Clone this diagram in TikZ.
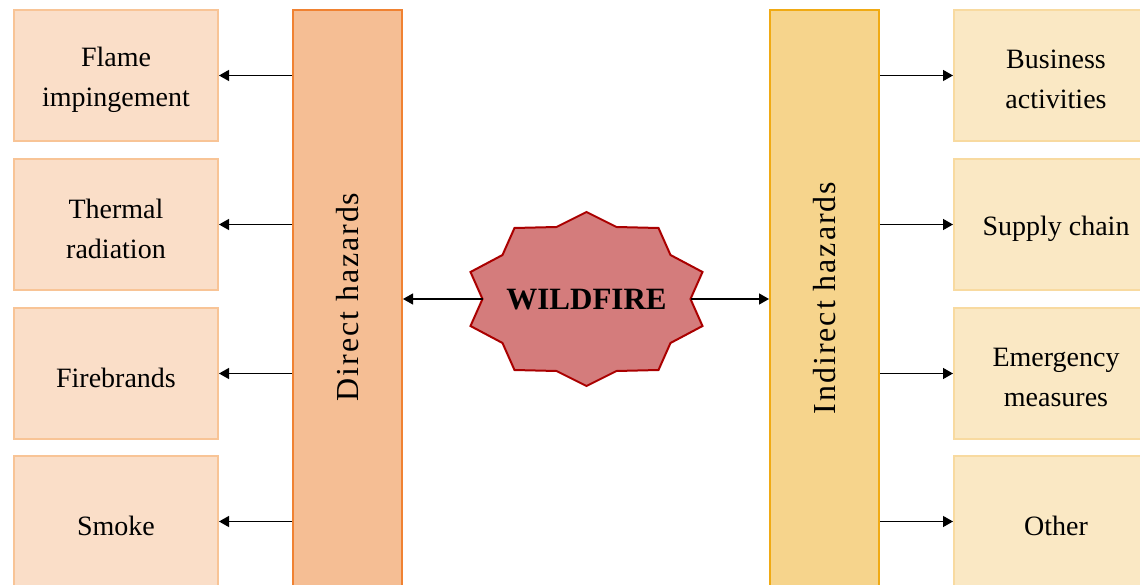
\documentclass[tikz,border=0pt]{standalone}
\usepackage{fontspec}
\setmainfont{Liberation Serif}
\usetikzlibrary{arrows.meta}
\definecolor{lfill}{RGB}{250,222,200}
\definecolor{lline}{RGB}{248,196,150}
\definecolor{dfill}{RGB}{245,190,148}
\definecolor{dline}{RGB}{240,130,50}
\definecolor{rfill}{RGB}{250,232,196}
\definecolor{rline}{RGB}{248,218,160}
\definecolor{ifill}{RGB}{246,212,140}
\definecolor{iline}{RGB}{240,170,20}
\definecolor{sfill}{RGB}{212,124,124}
\definecolor{sline}{RGB}{170,0,0}
\begin{document}
\begin{tikzpicture}[x=1pt,y=-1pt,
  boxtext/.style={align=center, font=\fontsize{28}{40}\selectfont, inner sep=0pt},
  lbox/.style={draw=lline, fill=lfill, line width=2pt, minimum width=204pt, minimum height=131pt, inner sep=0pt},
  rbox/.style={draw=rline, fill=rfill, line width=2pt, minimum width=204pt, minimum height=131pt, inner sep=0pt},
  dbar/.style={draw=dline, fill=dfill, line width=2pt, minimum width=109pt, minimum height=580pt, inner sep=0pt},
  ibar/.style={draw=iline, fill=ifill, line width=2pt, minimum width=109pt, minimum height=580pt, inner sep=0pt},
  bartext/.style={rotate=90, font=\fontsize{32}{36}\selectfont\addfontfeatures{LetterSpace=6}},
  arr/.style={line width=1.3pt, -{Triangle[length=10pt,width=11pt]}},
  starsty/.style={draw=sline, fill=sfill, line width=2pt, line join=miter}
]
\useasboundingbox (0,0) rectangle (1140,585);
\clip (0,0) rectangle (1140,585);

% bars
\node[dbar] (direct) at (347.5,300) {};
\node[bartext] (dtext) at (347.5,297) {Direct hazards};
\node[ibar] (indirect) at (824.5,300) {};
\node[bartext] (itext) at (824.5,298) {Indirect hazards};

% left boxes
\node[lbox] (l1) at (116,75.5) {};
\node[lbox] (l2) at (116,224.5) {};
\node[lbox] (l3) at (116,373.5) {};
\node[lbox] (l4) at (116,521.5) {};
\node[boxtext] (t1) at ([yshift=-4pt]l1.center) {Flame\\impingement};
\node[boxtext] (t2) at ([yshift=-4pt]l2.center) {Thermal\\radiation};
\node[boxtext] (t3) at ([yshift=-4pt]l3.center) {Firebrands};
\node[boxtext] (t4) at ([yshift=-4pt]l4.center) {Smoke};

% right boxes
\node[rbox] (r1) at (1056,75.5) {};
\node[rbox] (r2) at (1056,224.5) {};
\node[rbox] (r3) at (1056,373.5) {};
\node[rbox] (r4) at (1056,521.5) {};
\node[boxtext] (u1) at ([yshift=-4pt]r1.center) {Business\\activities};
\node[boxtext] (u2) at ([yshift=-4pt]r2.center) {Supply chain};
\node[boxtext] (u3) at ([yshift=-4pt]r3.center) {Emergency\\measures};
\node[boxtext] (u4) at ([yshift=-4pt]r4.center) {Other};

% star
\begin{scope}[shift={(586.5,299)}]
\draw[starsty] (0,-87) -- (30,-72) -- (72,-71) -- (84,-44) -- (116,-27) -- (104,0)
  -- (116,27) -- (84,44) -- (72,71) -- (30,72) -- (0,87) -- (-30,72) -- (-72,71)
  -- (-84,44) -- (-116,27) -- (-104,0) -- (-116,-27) -- (-84,-44) -- (-72,-71)
  -- (-30,-72) -- cycle;
\coordinate (fw) at (-104,0);
\coordinate (fe) at (104,0);
\end{scope}
\node[font=\fontsize{31}{36}\selectfont\bfseries] (fire) at (586.5,300) {WILDFIRE};

% connectors
\draw[arr] (fw) -- (direct.east |- fw);
\draw[arr] (fe) -- (indirect.west |- fe);
\foreach \b in {l1,l2,l3,l4} \draw[arr] (direct.west |- \b) -- (\b.east);
\foreach \b in {r1,r2,r3,r4} \draw[arr] (indirect.east |- \b) -- (\b.west);
\end{tikzpicture}
\end{document}
